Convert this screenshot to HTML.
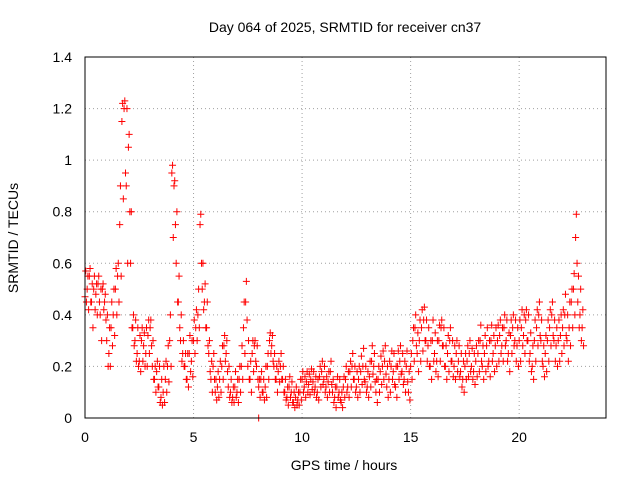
<!DOCTYPE html>
<html><head><meta charset="utf-8"><style>
body{margin:0;background:#fff}
svg text{font-family:"Liberation Sans",sans-serif;font-size:14px;fill:#000}
</style></head><body>
<svg id="chart" width="640" height="480">
<rect x="0" y="0" width="640" height="480" fill="#fff"/>
<text x="345" y="32" text-anchor="middle">Day 064 of 2025, SRMTID for receiver cn37</text>
<text x="344" y="470" text-anchor="middle">GPS time / hours</text>
<text transform="translate(18,238) rotate(-90)" text-anchor="middle">SRMTID / TECUs</text>
<g id="grid"></g><g id="pts"></g>
<rect x="85" y="57" width="521" height="361" fill="none" stroke="#000" stroke-width="1"/>
</svg>
<script>
const xTicks=[0,5,10,15,20];
const yTicks=[0,0.2,0.4,0.6,0.8,1,1.2,1.4];
const yTickLabels=["0","0.2","0.4","0.6","0.8","1","1.2","1.4"];
const startHour=0, stepHour=0.1;
const values=[
0.47,0.5,0.55,0.45,0.5,0.48,0.52,0.4,0.5,0.45,
0.3,0.25,0.35,0.4,0.5,0.55,0.75,1.15,1.2,0.9,
1.05,0.6,0.35,0.3,0.25,0.22,0.3,0.28,0.25,0.32,
0.35,0.2,0.15,0.18,0.12,0.08,0.1,0.15,0.2,0.3,
0.95,0.9,0.6,0.45,0.3,0.25,0.2,0.15,0.25,0.22,
0.3,0.35,0.4,0.75,0.5,0.45,0.35,0.25,0.15,0.2,
0.1,0.12,0.15,0.2,0.28,0.25,0.12,0.1,0.08,0.12,
0.1,0.15,0.2,0.35,0.45,0.2,0.15,0.25,0.28,0.2,
0.12,0.15,0.1,0.12,0.2,0.3,0.28,0.2,0.15,0.18,
0.2,0.15,0.1,0.08,0.12,0.1,0.06,0.08,0.07,0.1,
0.15,0.12,0.14,0.13,0.15,0.14,0.12,0.1,0.16,0.18,
0.15,0.12,0.14,0.18,0.1,0.08,0.12,0.1,0.06,0.12,
0.15,0.12,0.18,0.2,0.15,0.12,0.15,0.18,0.2,0.14,
0.12,0.16,0.22,0.2,0.1,0.15,0.18,0.2,0.22,0.12,
0.15,0.2,0.18,0.12,0.2,0.22,0.18,0.15,0.2,0.1,
0.2,0.3,0.35,0.25,0.3,0.35,0.38,0.3,0.28,0.2,
0.3,0.25,0.22,0.3,0.35,0.28,0.2,0.25,0.3,0.22,
0.2,0.25,0.22,0.18,0.15,0.2,0.22,0.25,0.2,0.18,
0.22,0.25,0.3,0.2,0.25,0.28,0.22,0.3,0.25,0.28,
0.3,0.32,0.28,0.35,0.3,0.25,0.32,0.35,0.3,0.28,
0.3,0.35,0.32,0.38,0.3,0.25,0.2,0.3,0.35,0.4,
0.3,0.2,0.25,0.3,0.35,0.4,0.3,0.28,0.3,0.32,
0.35,0.4,0.3,0.35,0.45,0.5,0.7,0.45,0.4,0.35];
const upperValues=[
0.57,0.55,0.58,0.52,0.55,0.52,0.55,0.5,0.52,0.48,
0.4,0.35,0.45,0.5,0.58,0.6,0.9,1.22,1.23,1.2,
1.1,0.8,0.4,0.38,0.35,0.32,0.35,0.33,0.35,0.38,
0.38,0.3,0.2,0.22,0.2,0.15,0.2,0.22,0.28,0.4,
0.98,0.92,0.8,0.55,0.4,0.3,0.25,0.25,0.32,0.3,
0.38,0.42,0.5,0.79,0.6,0.52,0.45,0.3,0.22,0.25,
0.15,0.18,0.22,0.28,0.32,0.3,0.2,0.15,0.12,0.18,
0.15,0.2,0.28,0.45,0.53,0.3,0.22,0.3,0.3,0.28,
0.15,0.18,0.15,0.2,0.25,0.33,0.32,0.25,0.2,0.22,
0.25,0.2,0.15,0.12,0.16,0.14,0.1,0.12,0.1,0.15,
0.18,0.16,0.18,0.17,0.19,0.18,0.16,0.15,0.2,0.22,
0.2,0.16,0.18,0.22,0.15,0.12,0.16,0.15,0.1,0.16,
0.2,0.18,0.22,0.25,0.2,0.18,0.2,0.24,0.27,0.2,
0.18,0.22,0.28,0.25,0.15,0.2,0.24,0.26,0.28,0.2,
0.22,0.26,0.25,0.2,0.26,0.28,0.25,0.22,0.26,0.18,
0.25,0.35,0.4,0.33,0.38,0.42,0.43,0.38,0.35,0.3,
0.38,0.33,0.3,0.36,0.38,0.35,0.28,0.32,0.35,0.3,
0.28,0.3,0.28,0.25,0.22,0.25,0.28,0.3,0.27,0.25,
0.28,0.3,0.36,0.28,0.32,0.35,0.3,0.36,0.32,0.35,
0.36,0.38,0.35,0.4,0.38,0.33,0.38,0.4,0.38,0.35,
0.38,0.42,0.4,0.42,0.4,0.33,0.28,0.38,0.42,0.45,
0.38,0.28,0.32,0.38,0.42,0.45,0.38,0.35,0.38,0.4,
0.42,0.48,0.4,0.45,0.5,0.56,0.79,0.55,0.5,0.42];
const lowerValues=[
0.45,0.42,0.45,0.35,0.42,0.4,0.45,0.3,0.42,0.38,
0.2,0.2,0.28,0.32,0.4,0.45,0.55,0.85,0.95,0.6,
0.8,0.35,0.28,0.22,0.2,0.18,0.22,0.2,0.2,0.25,
0.28,0.15,0.1,0.12,0.06,0.05,0.06,0.1,0.14,0.2,
0.7,0.75,0.45,0.35,0.22,0.2,0.15,0.12,0.18,0.16,
0.25,0.3,0.35,0.6,0.42,0.35,0.28,0.18,0.1,0.15,
0.07,0.08,0.1,0.15,0.22,0.18,0.08,0.06,0.06,0.08,
0.06,0.1,0.15,0.25,0.38,0.15,0.1,0.18,0.22,0.15,
0.08,0.1,0.07,0.08,0.15,0.25,0.22,0.15,0.1,0.14,
0.15,0.1,0.07,0.05,0.08,0.06,0.04,0.05,0.05,0.07,
0.1,0.08,0.1,0.09,0.11,0.1,0.08,0.07,0.12,0.13,
0.1,0.08,0.1,0.13,0.06,0.04,0.08,0.07,0.04,0.08,
0.1,0.08,0.12,0.15,0.1,0.08,0.1,0.13,0.15,0.1,
0.08,0.12,0.17,0.14,0.06,0.1,0.13,0.15,0.17,0.08,
0.1,0.15,0.13,0.08,0.15,0.17,0.13,0.1,0.14,0.07,
0.15,0.22,0.28,0.18,0.22,0.26,0.3,0.22,0.2,0.15,
0.22,0.18,0.16,0.22,0.28,0.2,0.15,0.18,0.22,0.16,
0.15,0.18,0.16,0.12,0.1,0.15,0.16,0.18,0.15,0.13,
0.16,0.18,0.22,0.15,0.18,0.2,0.16,0.22,0.18,0.2,
0.22,0.25,0.22,0.28,0.22,0.18,0.25,0.28,0.22,0.2,
0.22,0.28,0.25,0.3,0.22,0.18,0.15,0.22,0.28,0.32,
0.22,0.16,0.18,0.22,0.28,0.32,0.22,0.2,0.22,0.25,
0.28,0.32,0.22,0.28,0.35,0.4,0.6,0.35,0.3,0.28];
const outlierTimes=[8.0];
const outlierValues=[0.0];
const NS="http://www.w3.org/2000/svg";
const X=h=>85+h*(521/24);
const Y=v=>418-v*(361/1.4);
const grid=document.getElementById('grid'), pts=document.getElementById('pts');
function mk(tag,attrs,parent){const e=document.createElementNS(NS,tag);for(const k in attrs)e.setAttribute(k,attrs[k]);parent.appendChild(e);return e;}
xTicks.forEach(t=>{
 const l=mk('line',{x1:X(t),x2:X(t),y1:57,y2:418,stroke:'#a0a0a0','stroke-dasharray':'1,3'},grid);
 
 
 const tx=mk('text',{x:X(t),y:442,'text-anchor':'middle'},grid);tx.textContent=t;
 
 
});
yTicks.forEach((t,i)=>{
 const l=mk('line',{x1:85,x2:606,y1:Y(t),y2:Y(t),stroke:'#a0a0a0','stroke-dasharray':'1,3'},grid);
 
 
 const tx=mk('text',{x:72,y:Y(t)+5,'text-anchor':'end'},grid);tx.textContent=yTickLabels[i];
 
 
});
function plus(h,v,col){
 const x=X(h),y=Y(v);
 const p=mk('path',{d:`M${x-3.5},${y}h7M${x},${y-3.5}v7`,stroke:col||'#f00','stroke-width':1},pts);
 
 
}
upperValues.forEach((v,i)=>plus(startHour+i*stepHour+0.033,v));
lowerValues.forEach((v,i)=>plus(startHour+i*stepHour+0.066,v));
values.forEach((v,i)=>plus(startHour+i*stepHour,v));
outlierValues.forEach((v,i)=>plus(outlierTimes[i],v));
</script>
</body></html>
